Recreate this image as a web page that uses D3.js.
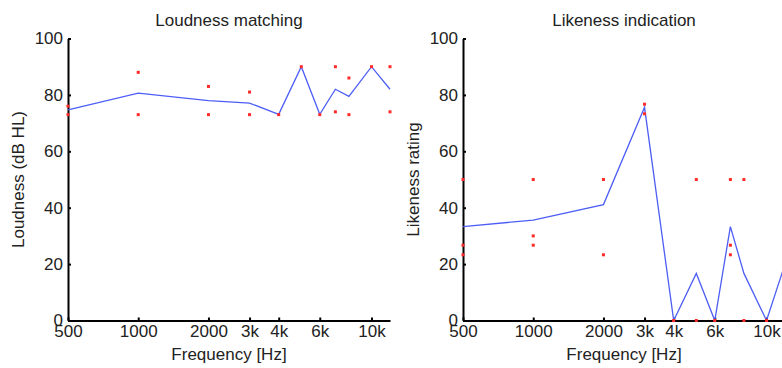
<!DOCTYPE html>
<html>
<head>
<meta charset="utf-8">
<script src="https://cdn.jsdelivr.net/npm/d3@7"></script>
<style>
  html, body { margin: 0; padding: 0; background: #fff; }
  svg { display: block; font-family: "Liberation Sans", Arial, sans-serif; }
</style>
</head>
<body>
<div id="viz"></div>
<script>
// ── Data ─────────────────────────────────────────────────────
const FREQS = [500, 1000, 2000, 3000, 4000, 5000, 6000, 7000, 8000, 10000, 12000];

const X_TICKS  = [500, 1000, 2000, 3000, 4000, 6000, 10000];
const X_LABELS = ['500', '1000', '2000', '3k', '4k', '6k', '10k'];
const Y_TICKS  = [0, 20, 40, 60, 80, 100];

// mean curve (blue) and individual responses (red dots)
const loudnessMean = [74.7, 80.6, 78.0, 77.1, 73.1, 90, 73.1, 82, 79.5, 90, 82];
const loudnessDots = [[76, 73], [88, 73], [83, 73], [81, 73], [73], [90], [73], [90, 74], [86, 73], [90], [90, 74]];

const likenessMean = [33.3, 35.6, 41.1, 75.6, 0, 16.7, 0, 33.3, 16.7, 0, 20];
const likenessDots = [[50, 26.7, 23.3], [50, 30, 26.7], [50, 23.3], [76.7, 73.3], [0], [50, 0], [0], [50, 26.7, 23.3], [50, 0], [0], [50, 0]];

const PANELS = [
  { title: 'Loudness matching',   ylabel: 'Loudness (dB HL)', mean: loudnessMean, dots: loudnessDots, left: 68 },
  { title: 'Likeness indication', ylabel: 'Likeness rating',  mean: likenessMean, dots: likenessDots, left: 463 },
];

// ── Layout ───────────────────────────────────────────────────
const W = 782, H = 368;
const plotW = 322;
const plotTop = 38.5, plotBottom = 320.5;
const FONT = 17;

const svg = d3.select('#viz').append('svg')
  .attr('width', W)
  .attr('height', H);

const x = d3.scaleLog().domain([500, 12000]).range([0, plotW]);
const y = d3.scaleLinear().domain([0, 100]).range([plotBottom, plotTop]);

PANELS.forEach(p => {
  const g = svg.append('g').attr('transform', `translate(${p.left},0)`);

  // axes (drawn first so the markers sit on top, as in the original)
  const xAxis = d3.axisBottom(x)
    .tickValues(X_TICKS)
    .tickFormat((d, i) => X_LABELS[i])
    .tickSize(-3)
    .tickSizeOuter(0)
    .tickPadding(4);

  const yAxis = d3.axisLeft(y)
    .tickValues(Y_TICKS)
    .tickSize(-3)
    .tickSizeOuter(0)
    .tickPadding(5);

  const gx = g.append('g').attr('transform', `translate(0,${plotBottom})`).call(xAxis);
  const gy = g.append('g').call(yAxis);

  [gx, gy].forEach(a => {
    a.select('.domain').attr('stroke', '#000').attr('stroke-width', 2);
    a.selectAll('.tick line').attr('stroke', '#000').attr('stroke-width', 2);
    a.selectAll('.tick text')
      .attr('fill', '#222')
      .attr('font-size', FONT)
      .attr('font-family', '"Liberation Sans", Arial, sans-serif');
  });

  // mean line
  const line = d3.line()
    .x((d, i) => x(FREQS[i]))
    .y(d => y(d));

  g.append('path')
    .datum(p.mean)
    .attr('d', line)
    .attr('fill', 'none')
    .attr('stroke', '#4d5ef5')
    .attr('stroke-width', 1.3);

  // individual responses
  const pts = [];
  p.dots.forEach((vals, i) => vals.forEach(v => pts.push({ f: FREQS[i], v })));
  g.append('g').selectAll('rect')
    .data(pts)
    .join('rect')
    .attr('x', d => x(d.f) - 1.5)
    .attr('y', d => y(d.v) - 1.5)
    .attr('width', 3)
    .attr('height', 3)
    .attr('fill', '#ff2a2a');

  // title
  g.append('text')
    .attr('x', plotW / 2)
    .attr('y', 25.5)
    .attr('text-anchor', 'middle')
    .attr('font-size', FONT)
    .attr('fill', '#222')
    .text(p.title);

  // x label
  g.append('text')
    .attr('x', plotW / 2)
    .attr('y', 360)
    .attr('text-anchor', 'middle')
    .attr('font-size', FONT)
    .attr('fill', '#222')
    .text('Frequency [Hz]');

  // y label
  g.append('text')
    .attr('transform', `translate(-44,${(plotTop + plotBottom) / 2}) rotate(-90)`)
    .attr('text-anchor', 'middle')
    .attr('font-size', FONT)
    .attr('fill', '#222')
    .text(p.ylabel);
});
</script>
</body>
</html>
